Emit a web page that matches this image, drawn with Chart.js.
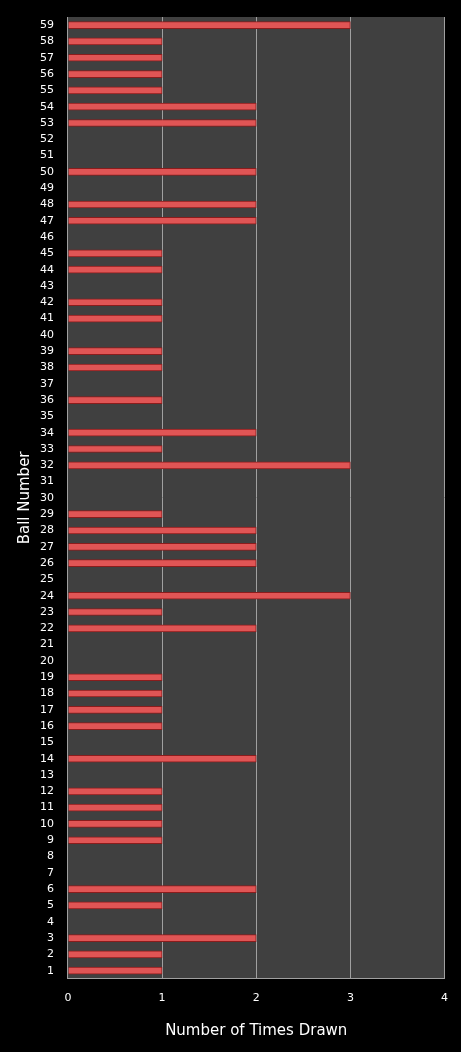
<!DOCTYPE html>
<html><head><meta charset="utf-8">
<script src="https://cdn.jsdelivr.net/npm/chart.js@4"></script>
<style>html,body{margin:0;background:#000;}#w{width:461px;height:1052px;}</style>
</head><body><div id="w"><canvas id="c"></canvas></div>
<script>
const balls = Array.from({length:59},(_,i)=>String(i+1));
const timesDrawn = [1,1,2,0,1,2,0,0,1,1,1,1,0,2,0,1,1,1,1,0,0,2,1,3,0,2,2,2,1,0,0,3,1,2,0,1,0,1,1,0,1,1,0,1,1,0,2,2,0,2,0,0,2,2,1,1,1,1,3];
const xTicks = [0,1,2,3,4];
const bgPlugin={id:'bg',beforeDraw(ch){const a=ch.chartArea,x=ch.ctx;x.save();x.fillStyle='#404040';x.fillRect(a.left,a.top,a.right-a.left,a.bottom-a.top);x.restore();}};
new Chart(document.getElementById('c'),{
type:'bar',
data:{labels:balls,datasets:[{data:timesDrawn,
 backgroundColor:'#e05555',
 borderColor:'#8a1c1c',borderWidth:1,barThickness:7}]},
options:{indexAxis:'y',responsive:true,maintainAspectRatio:false,animation:false,
layout:{padding:{top:17,right:16,bottom:8,left:16}},
plugins:{legend:{display:false},tooltip:{enabled:false}},
scales:{
 x:{min:0,max:4,afterBuildTicks(s){s.ticks=xTicks.map(v=>({value:v}));},
  grid:{color:'#a0a0a0',drawTicks:false},border:{color:'#a0a0a0'},
  ticks:{color:'#fff',font:{family:'DejaVu Sans',size:11},padding:13},
  title:{display:true,text:'Number of Times Drawn',color:'#fff',font:{family:'DejaVu Sans',size:15}}},
 y:{reverse:true,grid:{display:false},border:{color:'#a0a0a0'},
  ticks:{color:'#fff',font:{family:'DejaVu Sans',size:11},autoSkip:false,padding:6},
  title:{display:true,text:'Ball Number',color:'#fff',font:{family:'DejaVu Sans',size:15},padding:0}}
}},plugins:[bgPlugin]});
</script></body></html>
